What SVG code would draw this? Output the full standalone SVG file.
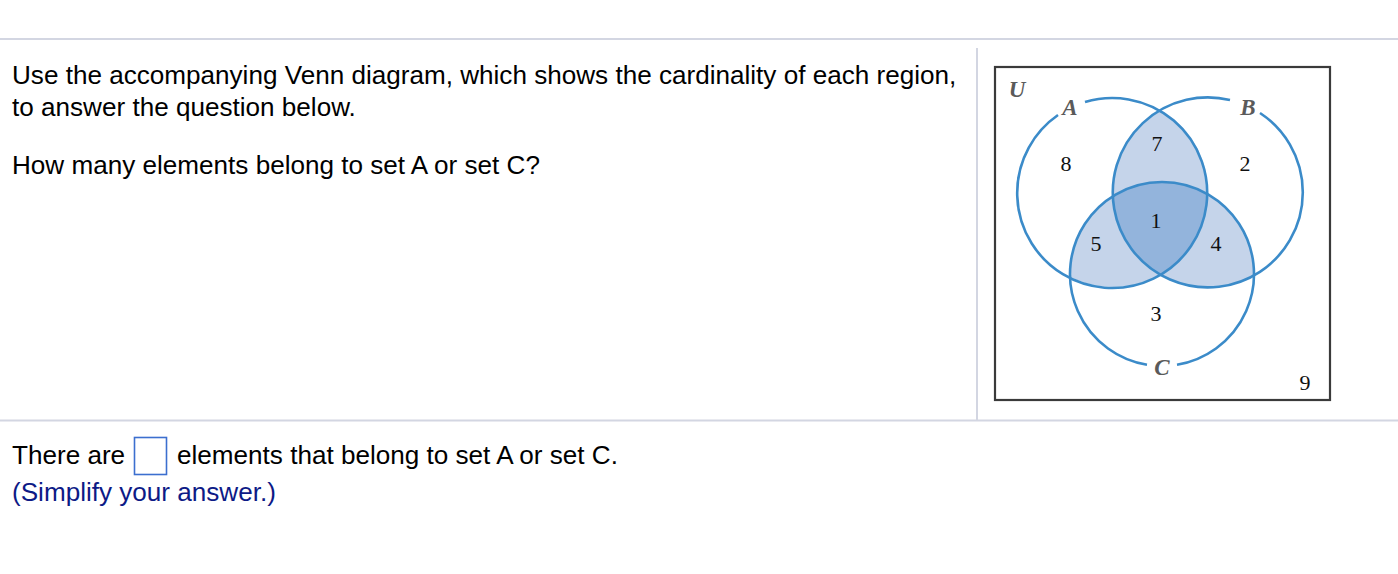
<svg xmlns="http://www.w3.org/2000/svg" width="1398" height="574" viewBox="0 0 1398 574">
<style>
.sep{stroke:#d3d6e2;stroke-width:2;fill:none}
.q{font-family:"Liberation Sans",Arial,sans-serif;font-size:26.1px;fill:#000}
.hint{font-family:"Liberation Sans",Arial,sans-serif;font-size:26.1px;fill:#0d1a86}
.num{font-family:"Liberation Serif","Times New Roman",serif;font-size:22px;fill:#111;text-anchor:middle}
.lab{font-family:"Liberation Serif","Times New Roman",serif;font-size:23px;font-style:italic;font-weight:bold;fill:#5a5a5a;text-anchor:middle}
.ring{fill:none;stroke:#3b8bc9;stroke-width:2.6}
.light{fill:#c5d4ea}
.dark{fill:#93b4dc}
</style>
<defs>
<clipPath id="cA"><circle cx="1113" cy="192" r="95"/></clipPath>
<clipPath id="cB"><circle cx="1207.5" cy="192" r="95"/></clipPath>
<clipPath id="cC"><circle cx="1162" cy="274" r="92"/></clipPath>
</defs>
<rect width="1398" height="574" fill="#fff"/>
<g id="separators">
<line class="sep" x1="0" y1="39" x2="1398" y2="39"/>
<line class="sep" x1="977" y1="48" x2="977" y2="420"/>
<line class="sep" x1="0" y1="420.5" x2="1398" y2="420.5"/>
</g>
<g id="question">
<text class="q" x="12" y="84">Use the accompanying Venn diagram, which shows the cardinality of each region,</text>
<text class="q" x="12" y="116">to answer the question below.</text>
<text class="q" x="12" y="174">How many elements belong to set A or set C?</text>
</g>
<g id="answer">
<text class="q" x="12" y="464">There are</text>
<rect x="134.5" y="437.5" width="32" height="37" fill="#fff" stroke="#3c6fcf" stroke-width="1.6"/>
<text class="q" x="177" y="464">elements that belong to set A or set C.</text>
<text class="hint" x="12" y="501">(Simplify your answer.)</text>
</g>
<g id="universe">
<rect x="995" y="67" width="335" height="333" fill="#fff" stroke="#3a3a3a" stroke-width="2.2"/>
<text class="lab" x="1017" y="97">U</text>
<text class="num" x="1305" y="390">9</text>
</g>
<g id="regions">
<g clip-path="url(#cA)"><circle class="light" cx="1207.5" cy="192" r="95"/></g>
<g clip-path="url(#cA)"><circle class="light" cx="1162" cy="274" r="92"/></g>
<g clip-path="url(#cB)"><circle class="light" cx="1162" cy="274" r="92"/></g>
<g clip-path="url(#cA)"><g clip-path="url(#cB)"><circle class="dark" cx="1162" cy="274" r="92"/></g></g>
</g>
<g id="setA">
<path class="ring" d="M1085 102 A95 95 0 1 1 1058 115"/>
<text class="lab" x="1070" y="115">A</text>
<text class="num" x="1066" y="171">8</text>
</g>
<g id="setB">
<path class="ring" d="M1260 113 A95 95 0 1 1 1230 100"/>
<text class="lab" x="1248" y="115">B</text>
<text class="num" x="1245" y="171">2</text>
</g>
<g id="setC">
<path class="ring" d="M1147 364.8 A92 92 0 1 1 1177 364.8"/>
<text class="lab" x="1162" y="375">C</text>
<text class="num" x="1156" y="321">3</text>
</g>
<g id="intersections">
<text class="num" x="1157" y="151">7</text>
<text class="num" x="1156" y="228">1</text>
<text class="num" x="1096" y="251">5</text>
<text class="num" x="1216" y="251">4</text>
</g>
</svg>
